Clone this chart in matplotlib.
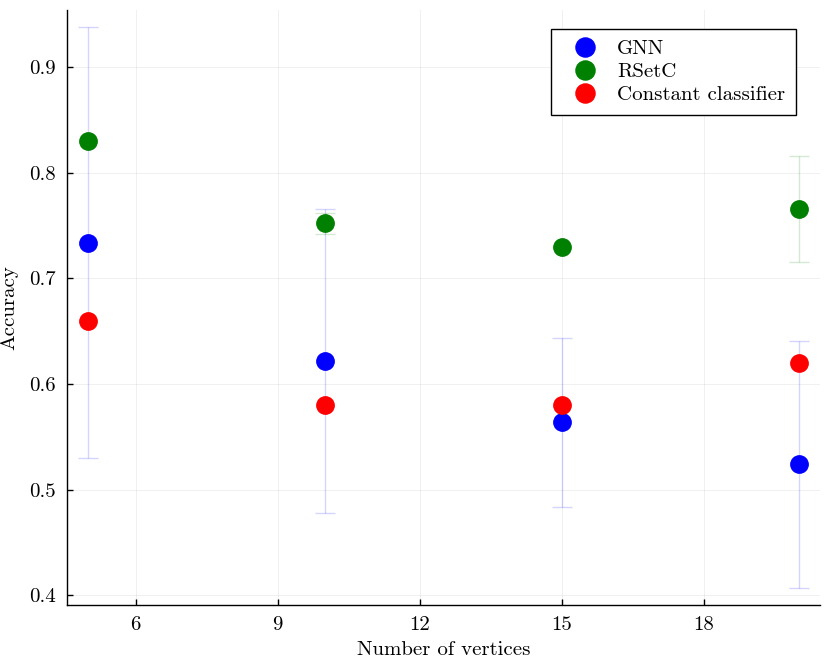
import matplotlib
matplotlib.use("Agg")
import matplotlib.pyplot as plt
import numpy as np

plt.rcParams['font.family'] = ['cmr10', 'DejaVu Serif']
plt.rcParams['axes.formatter.use_mathtext'] = True
plt.rcParams['mathtext.fontset'] = 'cm'

vertices = [5, 10, 15, 20]
series_names = ["GNN", "RSetC", "Constant classifier"]
gnn_acc = [0.734, 0.622, 0.564, 0.524]
gnn_err = [0.204, 0.144, 0.080, 0.117]
rsetc_acc = [0.830, 0.752, 0.730, 0.766]
rsetc_err = [0.0, 0.010, 0.0, 0.050]
const_acc = [0.660, 0.580, 0.580, 0.620]
colors = ["#0000ff", "#008000", "#ff0000"]
xticks = [6, 9, 12, 15, 18]
yticks = [0.4, 0.5, 0.6, 0.7, 0.8, 0.9]

fig = plt.figure(figsize=(8.3, 6.64), dpi=100)
ax = fig.add_axes([67/830, 1-605/664, 753/830, 595/664])


def draw_err(xs, ys, es, color):
    sel = [i for i, e in enumerate(es) if e > 0]
    if not sel:
        return
    ax.errorbar([xs[i] for i in sel], [ys[i] for i in sel], yerr=[es[i] for i in sel],
                fmt='none', ecolor=color, alpha=0.17, elinewidth=1.0, capsize=7,
                capthick=1.0, zorder=2)


draw_err(vertices, gnn_acc, gnn_err, colors[0])
draw_err(vertices, rsetc_acc, rsetc_err, colors[1])

ax.plot(vertices, gnn_acc, 'o', color=colors[0], ms=12.5, mec=colors[0], label=series_names[0], zorder=3)
ax.plot(vertices, rsetc_acc, 'o', color=colors[1], ms=12.5, mec=colors[1], label=series_names[1], zorder=3)
ax.plot(vertices, const_acc, 'o', color=colors[2], ms=12.5, mec=colors[2], label=series_names[2], zorder=3)

ax.set_xlim(4.55, 20.45)
ax.set_ylim(0.391, 0.954)
ax.set_xticks(xticks)
ax.set_yticks(yticks)
ax.set_xticklabels([str(t) for t in xticks])
ax.set_yticklabels([f"{t:.1f}" for t in yticks])
ax.tick_params(direction='in', length=4, width=1, labelsize=15, colors='black', pad=8)
ax.grid(True, color='black', alpha=0.07, linewidth=0.6)
ax.set_axisbelow(True)
for s in ['top', 'right']:
    ax.spines[s].set_visible(False)
for s in ['left', 'bottom']:
    ax.spines[s].set_linewidth(1.0)

ax.set_xlabel("Number of vertices", fontsize=15, labelpad=5)
ax.set_ylabel("Accuracy", fontsize=15, labelpad=8)

leg = ax.legend(loc='upper right', bbox_to_anchor=(0.968, 0.968), borderaxespad=0,
                fontsize=15, frameon=True, fancybox=False, edgecolor='black', framealpha=1,
                handlelength=2.3, handletextpad=0.4, borderpad=0.5, labelspacing=0.22,
                markerscale=1.1)
leg.get_frame().set_linewidth(1.0)

fig.savefig("out.png", dpi=100)
